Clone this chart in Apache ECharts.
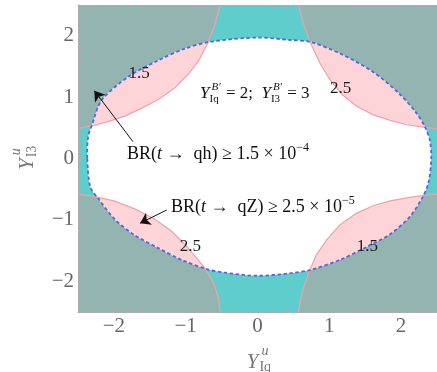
<!DOCTYPE html>
<html><head><meta charset="utf-8">
<script src="https://cdn.jsdelivr.net/npm/echarts@6/dist/echarts.min.js"></script>
<style>html,body{margin:0;padding:0;background:#fff}#c{width:437px;height:372px}</style>
</head><body><div id="c"></div>
<script>
// ---- data ----
const majorTicks = [-2, -1, 0, 1, 2];
const minorTicks = [-2.4,-2.2,-1.8,-1.6,-1.4,-1.2,-0.8,-0.6,-0.4,-0.2,0.2,0.4,0.6,0.8,1.2,1.4,1.6,1.8,2.2,2.4];

// BR(t -> qZ) contour (dashed boundary of the white region)
const ellipseBoundary = [[-2.37,0.00],[-2.33,-0.46],[-2.22,-0.65],[-1.98,-1.00],[-1.71,-1.25],[-1.38,-1.46],[-1.06,-1.65],[-0.71,-1.80],[-0.45,-1.86],[0.00,-1.91],[0.45,-1.87],[0.75,-1.81],[1.15,-1.65],[1.52,-1.44],[1.85,-1.23],[2.12,-0.95],[2.29,-0.65],[2.38,-0.40],[2.42,0.00],[2.40,0.30],[2.33,0.52],[2.22,0.73],[1.98,1.05],[1.61,1.41],[1.15,1.71],[0.73,1.90],[0.45,1.93],[0.00,1.97],[-0.66,1.90],[-1.01,1.79],[-1.38,1.60],[-1.80,1.33],[-2.17,0.95],[-2.31,0.53],[-2.36,0.35]];

// BR(t -> qh) contours in the four corners
const curveTopLeft = [[-2.5,0.49],[-2.31,0.53],[-2.08,0.60],[-1.85,0.69],[-1.61,0.82],[-1.38,0.96],[-1.15,1.15],[-0.96,1.38],[-0.82,1.59],[-0.70,1.86],[-0.60,2.16],[-0.52,2.5]];
const curveTopRight = [[0.57,2.5],[0.64,2.20],[0.73,1.90],[0.87,1.55],[1.01,1.28],[1.19,1.03],[1.38,0.85],[1.61,0.71],[1.85,0.62],[2.08,0.55],[2.31,0.51],[2.5,0.48]];
const curveBottomLeft = [[-2.5,-0.58],[-2.26,-0.62],[-2.00,-0.69],[-1.71,-0.82],[-1.43,-0.99],[-1.20,-1.18],[-1.01,-1.40],[-0.85,-1.62],[-0.71,-1.82],[-0.60,-2.06],[-0.54,-2.30],[-0.52,-2.5]];
const curveBottomRight = [[0.57,-2.5],[0.62,-2.19],[0.71,-1.87],[0.82,-1.57],[0.96,-1.33],[1.15,-1.08],[1.38,-0.89],[1.61,-0.77],[1.85,-0.69],[2.08,-0.64],[2.31,-0.60],[2.5,-0.58]];
const cornerPoints = [[-2.5,2.5],[2.5,2.5],[-2.5,-2.5],[2.5,-2.5]];
const contourLabels = ['1.5','2.5','2.5','1.5'];
const contourLabelAt = [[-1.65,1.39],[1.156,1.143],[-0.936,-1.43],[1.532,-1.436]];

// arrows (data coords)
const arrowQh = [[-1.734,0.274],[-2.273,1.104]];
const arrowQz = [[-1.265,-0.839],[-1.636,-1.055]];

// ---- styles ----
const C_CYAN = '#5fcdcb', C_GRAY = '#93b4b1', C_PINK = '#fdd4d8';
const C_CURVE = '#f1a2a8', C_DASH = '#5566e0';
const FRAME = '#acacac';
const FONT = '"Liberation Serif", "Times New Roman", serif';
const SMOOTH = 0.3;

const corners = [curveTopLeft, curveTopRight, curveBottomLeft, curveBottomRight];
const chart = echarts.init(document.getElementById('c'), null, {renderer: 'canvas'});

function fmt(v){ return v < 0 ? '\u2212' + Math.abs(v) : String(v); }
function mkAxis(pos, ticks, len, showLabel, showLine){
  return {
    type: 'value', min: -2.5, max: 2.5, position: pos,
    axisLine: {show: showLine, onZero: false, lineStyle: {color: FRAME, width: 1}},
    axisTick: {show: true, inside: true, length: len, customValues: ticks, lineStyle: {color: FRAME, width: 1}},
    axisLabel: showLabel ? {show: true, customValues: majorTicks, margin: 4, color: '#666', fontFamily: FONT, fontSize: 21, formatter: fmt}
                         : {show: false},
    splitLine: {show: false}, minorTick: {show: false}, minorSplitLine: {show: false}, z: 20
  };
}
const toPx = (api, pts) => pts.map(p => api.coord(p));
const idxData = corners.map((c, i) => [0, 0, i]);

chart.setOption({
  animation: false,
  grid: {left: 78, right: 0, top: 5, bottom: 60, show: true, backgroundColor: C_CYAN, borderWidth: 0},
  xAxis: [mkAxis('bottom', majorTicks, 5, true, true), mkAxis('bottom', minorTicks, 3, false, false),
          mkAxis('top', majorTicks, 5, false, true), mkAxis('top', minorTicks, 3, false, false)],
  yAxis: [mkAxis('left', majorTicks, 5, true, true), mkAxis('left', minorTicks, 3, false, false)],
  series: [
    { // corner regions outside the white area
      type: 'custom', coordinateSystem: 'cartesian2d', clip: true, silent: true, z: 1, data: idxData,
      renderItem(params, api){
        const i = params.dataIndex;
        return {type: 'polygon', shape: {points: toPx(api, corners[i].concat([cornerPoints[i]]))}, style: {fill: C_GRAY}};
      }
    },
    { // white region
      type: 'custom', coordinateSystem: 'cartesian2d', clip: true, silent: true, z: 2, data: [[0,0]],
      renderItem(params, api){
        return {type: 'polygon', shape: {points: toPx(api, ellipseBoundary), smooth: SMOOTH}, style: {fill: '#ffffff'}};
      }
    },
    { // pink lenses: corner regions inside the white area
      type: 'custom', coordinateSystem: 'cartesian2d', clip: true, silent: true, z: 3, data: idxData,
      renderItem(params, api){
        const i = params.dataIndex;
        return {type: 'polygon', shape: {points: toPx(api, corners[i].concat([cornerPoints[i]]))}, style: {fill: C_PINK},
                clipPath: {type: 'polygon', shape: {points: toPx(api, ellipseBoundary), smooth: SMOOTH}}};
      }
    },
    { // corner contour lines
      type: 'custom', coordinateSystem: 'cartesian2d', clip: true, silent: true, z: 4, data: idxData,
      renderItem(params, api){
        const i = params.dataIndex;
        return {type: 'polyline', shape: {points: toPx(api, corners[i])}, style: {fill: null, stroke: C_CURVE, lineWidth: 1.2}};
      }
    },
    { // dashed boundary
      type: 'custom', coordinateSystem: 'cartesian2d', clip: true, silent: true, z: 5, data: [[0,0]],
      renderItem(params, api){
        return {type: 'polygon', shape: {points: toPx(api, ellipseBoundary), smooth: SMOOTH},
                style: {fill: null, stroke: C_DASH, lineWidth: 1.8, lineDash: [3.5, 2.5]}};
      }
    },
    {
      type: 'lines', coordinateSystem: 'cartesian2d', silent: true, z: 6,
      symbol: ['none', 'arrow'], symbolSize: 10,
      lineStyle: {color: '#111', width: 1, opacity: 1, curveness: 0},
      data: [{coords: arrowQh}, {coords: arrowQz}]
    }
  ]
});

// ---- formula text ----
const mctx = document.createElement('canvas').getContext('2d');
function fontStr(size, italic){ return (italic ? 'italic ' : '') + size + 'px ' + FONT; }
function tw(t, size, italic){ mctx.font = fontStr(size, italic); return mctx.measureText(t).width; }
function txt(t, x, y, size, italic, color){
  return {type: 'text', x: x, y: y, z: 100, silent: true,
          style: {text: t, font: fontStr(size, italic), fill: color, textAlign: 'left', align: 'left', textVerticalAlign: 'middle', verticalAlign: 'middle'}};
}
function formula(tokens, o){
  const kids = []; let x = 0;
  tokens.forEach(tk => {
    if (tk.t != null){
      kids.push(txt(tk.t, x, 0, o.size, tk.i, o.color));
      x += tw(tk.t, o.size, tk.i);
    } else {
      let w = 0;
      if (tk.sup){ const dx = tk.supDx || 0; kids.push(txt(tk.sup, x + dx, o.supDy, o.small, tk.supI, o.color)); w = Math.max(w, dx + tw(tk.sup, o.small, tk.supI)); }
      if (tk.sub){ const dx = tk.subDx || 0; kids.push(txt(tk.sub, x + dx, o.subDy, o.small, false, o.color)); w = Math.max(w, dx + tw(tk.sub, o.small, false)); }
      x += w + 1;
    }
  });
  return kids;
}
const px = p => chart.convertToPixel({xAxisIndex: 0, yAxisIndex: 0}, p);

const graphics = [];
function place(tokens, o, anchor, rot){
  graphics.push({type: 'group', x: anchor[0], y: anchor[1], rotation: rot || 0, z: 100, children: formula(tokens, o)});
}
const mathMain = {size: 18, small: 12, color: '#111', supDy: -6, subDy: 5};
place([{t: 'BR('}, {t: 't', i: true}, {t: ' \u2192  qh) \u2265 1.5 \u00d7 10'}, {sup: '\u22124'}], mathMain, px([-1.816, 0.075]));
place([{t: 'BR('}, {t: 't', i: true}, {t: ' \u2192  qZ) \u2265 2.5 \u00d7 10'}, {sup: '\u22125'}], mathMain, px([-1.205, -0.793]));
place([{t: 'Y', i: true}, {sup: 'B\u2032', supI: true, sub: 'Iq', supDx: 2, subDx: 0}, {t: ' = 2;  '},
       {t: 'Y', i: true}, {sup: 'B\u2032', supI: true, sub: 'I3', supDx: 2, subDx: 0}, {t: ' = 3'}],
      {size: 17, small: 11, color: '#111', supDy: -7, subDy: 5}, px([-0.80, 1.054]));

const titleStyle = {size: 21, small: 14, color: '#777', supDy: -11, subDy: 5};
const bl = px([-0.15, -2.5]);
place([{t: 'Y', i: true}, {sup: 'u', supI: true, sub: 'Iq', supDx: 3, subDx: 1}], titleStyle, [bl[0], bl[1] + 50.5]);
const lp = px([-2.5, -0.187]);
place([{t: 'Y', i: true}, {sup: 'u', supI: true, sub: 'I3', supDx: 3, subDx: 1}], titleStyle, [lp[0] - 51, lp[1]], Math.PI / 2);

contourLabels.forEach((t, i) => {
  const p = px(contourLabelAt[i]);
  graphics.push({type: 'text', x: p[0], y: p[1], z: 100, silent: true,
    style: {text: t, font: fontStr(17, false), fill: '#1a1a1a', textAlign: 'center', align: 'center', textVerticalAlign: 'middle', verticalAlign: 'middle'}});
});
chart.setOption({graphic: graphics});
</script></body></html>
